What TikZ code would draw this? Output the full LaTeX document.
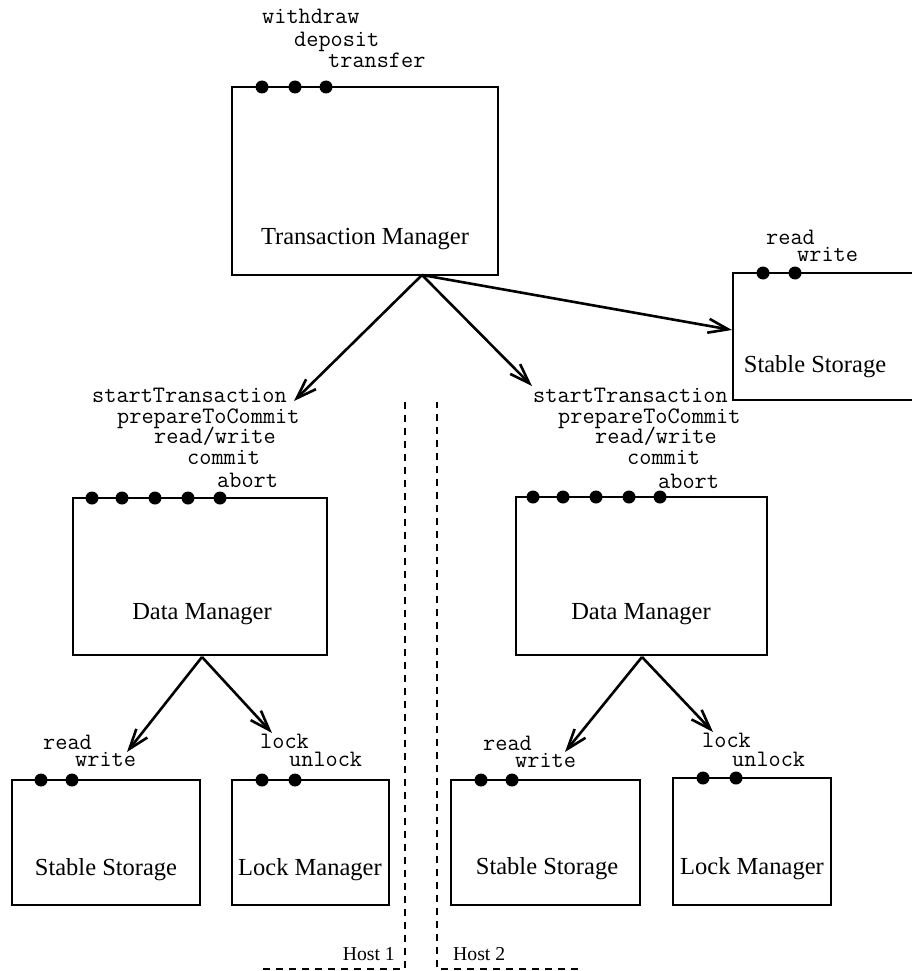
\documentclass[tikz,border=0pt]{standalone}
\usepackage{fontspec}
\setmainfont{Liberation Serif}
\usetikzlibrary{arrows.meta}

\begin{document}
\begin{tikzpicture}[x=1pt,y=-1pt,
  box/.style={line width=1.2pt},
  port/.style={circle,fill=black,inner sep=0pt,minimum size=13pt},
  op/.style={anchor=base west,inner sep=0pt,text height=1.3ex,text depth=0.2ex,
    font=\fontsize{23.6}{25}\selectfont\ttfamily},
  boxname/.style={anchor=base,inner sep=0pt,font=\fontsize{24.5}{26}\selectfont},
  hostname/.style={inner sep=0pt,font=\fontsize{19.7}{21}\selectfont},
  call/.style={line width=2.6pt,-{Straight Barb[length=20pt,width=14pt]}},
  hostline/.style={line width=1.2pt,dash pattern=on 7pt off 6pt}]

\useasboundingbox (0,0) rectangle (912,971);

% transaction manager
\draw[box] (232,87) rectangle (498,275);
\node[boxname] (tm) at (365,244) {Transaction Manager};
\foreach \x [count=\i] in {262,295,326} \node[port] (tmp\i) at (\x,87) {};
\node[op] (withdraw) at (262,24) {withdraw};
\node[op] (deposit) at (294,47) {deposit};
\node[op] (transfer) at (328,68) {transfer};

% stable storage of the transaction manager
\draw[box] (912,273) -| (733,400) -- (912,400);
\node[boxname] (ss) at (815,372) {Stable Storage};
\foreach \x [count=\i] in {763,795} \node[port] (ssp\i) at (\x,273) {};
\node[op] (ssread) at (766,244) {read};
\node[op] (sswrite) at (797,261) {write};

% data managers
\draw[box] (73,498) rectangle (327,655);
\node[boxname] (dma) at (202,619) {Data Manager};
\foreach \x [count=\i] in {92,122,155,188,220} \node[port] (dmap\i) at (\x,498) {};
\node[op] (dmastart) at (92,402) {startTransaction};
\node[op] (dmaprep) at (117,423) {prepareToCommit};
\node[op] (dmarw) at (154,443) {read/write};
\node[op] (dmacommit) at (187,464) {commit};
\node[op] (dmaabort) at (217,487) {abort};

\draw[box] (516,497) rectangle (767,655);
\node[boxname] (dmb) at (641,619) {Data Manager};
\foreach \x [count=\i] in {533,563,596,629,660} \node[port] (dmbp\i) at (\x,497) {};
\node[op] (dmbstart) at (533,402) {startTransaction};
\node[op] (dmbprep) at (558,423) {prepareToCommit};
\node[op] (dmbrw) at (595,443) {read/write};
\node[op] (dmbcommit) at (627,464) {commit};
\node[op] (dmbabort) at (658,488) {abort};

% host 1 storage and locks
\draw[box] (12,780) rectangle (200,905);
\node[boxname] (ssa) at (106,875) {Stable Storage};
\foreach \x [count=\i] in {41,72} \node[port] (ssap\i) at (\x,780) {};
\node[op] (ssaread) at (43,749) {read};
\node[op] (ssawrite) at (75,766) {write};

\draw[box] (232,780) rectangle (389,905);
\node[boxname] (lma) at (310,875) {Lock Manager};
\foreach \x [count=\i] in {262,295} \node[port] (lmap\i) at (\x,780) {};
\node[op] (lmalock) at (260,748) {lock};
\node[op] (lmaunlock) at (289,766) {unlock};

% host 2 storage and locks
\draw[box] (451,780) rectangle (640,905);
\node[boxname] (ssb) at (547,874) {Stable Storage};
\foreach \x [count=\i] in {481,512} \node[port] (ssbp\i) at (\x,780) {};
\node[op] (ssbread) at (483,750) {read};
\node[op] (ssbwrite) at (515,767) {write};

\draw[box] (673,778) rectangle (831,905);
\node[boxname] (lmb) at (752,874) {Lock Manager};
\foreach \x [count=\i] in {703,736} \node[port] (lmbp\i) at (\x,778) {};
\node[op] (lmblock) at (702,747) {lock};
\node[op] (lmbunlock) at (732,766) {unlock};

% calls
\coordinate (tmout) at (422,275);
\coordinate (dmain) at (294,401);
\coordinate (dmbin) at (532,386);
\coordinate (ssin) at (732,330);
\draw[call] (tmout) -- (dmain);
\draw[call] (tmout) -- (dmbin);
\draw[call] (tmout) -- (ssin);

\coordinate (dmaout) at (202,657);
\coordinate (ssain) at (127,752);
\coordinate (lmain) at (272,733);
\draw[call] (dmaout) -- (ssain);
\draw[call] (dmaout) -- (lmain);

\coordinate (dmbout) at (642,657);
\coordinate (ssbin) at (565,752);
\coordinate (lmbin) at (713,732);
\draw[call] (dmbout) -- (ssbin);
\draw[call] (dmbout) -- (lmbin);

% hosts
\draw[hostline] (263,969) -| (405,402);
\draw[hostline] (578,969) -| (437,402);
\node[hostname,anchor=base east] (hosta) at (395,960) {Host 1};
\node[hostname,anchor=base west] (hostb) at (453,960) {Host 2};

\end{tikzpicture}
\end{document}
